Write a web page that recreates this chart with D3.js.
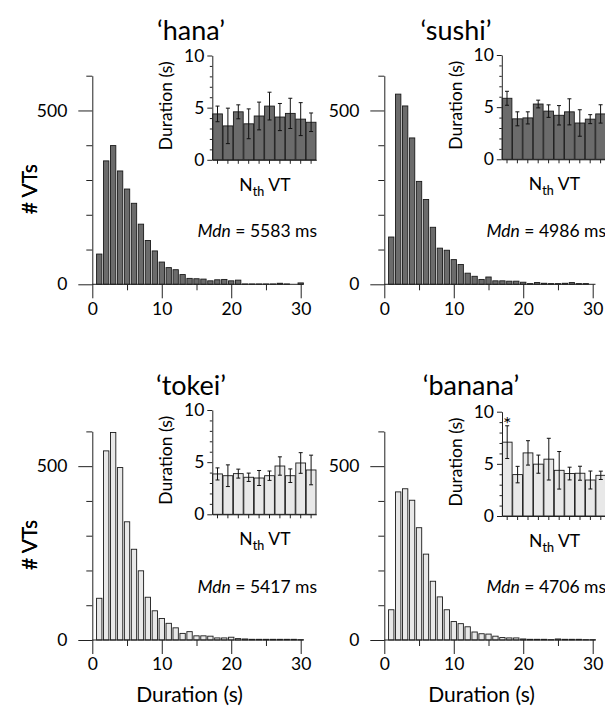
<!DOCTYPE html>
<html><head><meta charset="utf-8">
<script src="https://cdn.jsdelivr.net/npm/d3@7"></script>
<style>
html,body{margin:0;padding:0;background:#fff;}
svg text, svg tspan{font-family:Lato,"Open Sans",sans-serif;fill:#000;}
.sub{font-size:12.5px;}
</style></head>
<body><svg id="c" width="605" height="718"></svg>
<script>
// ---- data ----
const panelNames = ["‘hana’", "‘sushi’", "‘tokei’", "‘banana’"];
const durationBins = [1,2,3,4,5,6,7,8,9,10,11,12,13,14,15,16,17,18,19,20,21,22,23,24,25,26,27,28,29,30];
const hanaCounts   = [87,355,399,326,274,233,173,126,96,64,48,42,28,17,16,15,10,13,14,10,12,1,1,1,1,1,3,1,0,4];
const sushiCounts  = [136,547,513,421,296,244,164,104,98,71,57,32,23,14,21,10,10,9,9,6,2,5,3,2,2,3,5,2,2,0];
const tokeiCounts  = [120,544,597,496,340,261,199,123,84,62,48,35,19,24,12,12,11,6,6,8,4,3,2,2,2,2,2,2,2,1];
const bananaCounts = [87,426,435,402,323,247,169,124,87,53,47,38,23,18,17,11,7,6,6,3,2,2,2,1,3,2,2,2,1,1];
const nthVT = [1,2,3,4,5,6,7,8,9,10];
const hanaMeans   = [4.4,3.25,4.6,3.45,4.2,5.15,4.1,4.45,3.9,3.6];
const hanaErr     = [0.75,1.7,0.67,1.43,1.33,1.33,1.3,1.45,1.58,0.89];
const sushiMeans  = [5.85,3.88,3.97,5.3,4.62,4.22,4.55,3.48,3.85,4.35];
const sushiErr    = [0.67,0.67,0.58,0.37,0.6,0.93,1.25,1.27,0.43,0.88];
const tokeiMeans  = [3.87,3.7,3.9,3.55,3.48,3.7,4.63,3.7,4.92,4.25];
const tokeiErr    = [0.58,1.04,0.43,0.4,0.72,0.45,0.88,0.65,0.99,1.42];
const bananaMeans = [7.08,3.97,6.05,4.97,5.45,4.38,4.07,4.1,3.45,3.9];
const bananaErr   = [1.57,0.79,1.17,0.87,2.0,1.8,0.61,0.67,0.86,0.4];
const medians = [5583, 4986, 5417, 4706];
const mainYMajor = [0, 500];
const mainYMinor = [100, 200, 300, 400, 600];
const mainXMajor = [0, 10, 20, 30];
const mainXMinor = [5, 15, 25];
const insetYMajor = [0, 5, 10];
const insetYMinor = [1, 2, 3, 4, 6, 7, 8, 9];
const significant = [[], [], [], [1]];

const countsAll = [hanaCounts, sushiCounts, tokeiCounts, bananaCounts];
const meansAll = [hanaMeans, sushiMeans, tokeiMeans, bananaMeans];
const errAll = [hanaErr, sushiErr, tokeiErr, bananaErr];

// ---- layout ----
const layout = [
  {ox: 92.3, oy: 284.3, idx: 120, idy: 124.5, fill: "#6b6b6b", tx: 191, ty: 40, mdnX: 317},
  {ox: 384.3, oy: 284.3, idx: 117.5, idy: 125, fill: "#6b6b6b", tx: 456, ty: 40, mdnX: 606},
  {ox: 92.3, oy: 640, idx: 120, idy: 125.7, fill: "#e8e8e8", tx: 191, ty: 395, mdnX: 317},
  {ox: 384.3, oy: 640, idx: 117.7, idy: 124, fill: "#e8e8e8", tx: 471, ty: 395, mdnX: 606}
];
const FS = {title: 27, axisLabel: 21, tick: 17.5, inset: 17.5, mdn: 17.5};
const svg = d3.select("#c");
const axisColor = "#222";

function styleAxis(g){
  g.selectAll("path.domain").attr("stroke", axisColor).attr("stroke-width", 1);
  g.selectAll(".tick line").attr("stroke", axisColor).attr("stroke-width", 1);
  g.selectAll(".tick text").attr("fill", "#000");
}

layout.forEach((L, p) => {
  const g = svg.append("g");
  const x = d3.scaleLinear().domain([0, 30]).range([L.ox, L.ox + 208.4]);
  const y = d3.scaleLinear().domain([0, 600]).range([L.oy, L.oy - 208.6]);
  const bw = (x(1) - x(0)) * 0.77;

  // bars
  g.append("g").selectAll("rect").data(durationBins.map((b, i) => ({b, v: countsAll[p][i]})))
    .join("rect")
    .attr("x", d => x(d.b) - bw / 2).attr("width", bw)
    .attr("y", d => y(d.v)).attr("height", d => Math.max(0, y(0) - y(d.v)))
    .attr("fill", L.fill).attr("stroke", "#1a1a1a").attr("stroke-width", 0.9);

  // y axis
  const yMaj = g.append("g").attr("transform", `translate(${L.ox},0)`)
    .call(d3.axisLeft(y).tickValues(mainYMajor).tickSize(14).tickSizeOuter(0).tickPadding(11));
  yMaj.selectAll("text").style("font-size", FS.tick + "px");
  styleAxis(yMaj);
  const yMin = g.append("g").attr("transform", `translate(${L.ox},0)`)
    .call(d3.axisLeft(y).tickValues(mainYMinor).tickSize(6).tickFormat(""));
  yMin.select("path.domain").remove();
  styleAxis(yMin);

  // x axis
  const xMaj = g.append("g").attr("transform", `translate(0,${L.oy})`)
    .call(d3.axisBottom(x).tickValues(mainXMajor).tickSize(14).tickSizeOuter(0).tickPadding(4));
  xMaj.select("path.domain").remove();
  xMaj.selectAll("text").style("font-size", FS.tick + "px");
  styleAxis(xMaj);
  const xMin = g.append("g").attr("transform", `translate(0,${L.oy})`)
    .call(d3.axisBottom(x).tickValues(mainXMinor).tickSize(6).tickFormat(""));
  xMin.select("path.domain").remove();
  styleAxis(xMin);
  g.append("line").attr("x1", x(0)).attr("x2", x(30.4)).attr("y1", L.oy).attr("y2", L.oy)
    .attr("stroke", axisColor);

  // title
  g.append("text").attr("x", L.tx).attr("y", L.ty).attr("text-anchor", "middle")
    .style("font-size", FS.title + "px").text(panelNames[p]);

  // y label
  g.append("text").attr("transform", `translate(37,${L.oy - 95}) rotate(-90)`)
    .attr("text-anchor", "middle").style("font-size", FS.axisLabel + "px").text("# VTs");

  // x label for bottom row
  if (p >= 2) {
    g.append("text").attr("x", x(14)).attr("y", L.oy + 62).attr("text-anchor", "middle")
      .style("font-size", FS.axisLabel + "px").text("Duration (s)");
  }

  // median text
  const mt = g.append("text").attr("x", L.mdnX).attr("y", L.oy - 47).attr("text-anchor", "end")
    .style("font-size", FS.mdn + "px");
  mt.append("tspan").style("font-style", "italic").text("Mdn");
  mt.append("tspan").text(" = " + medians[p] + " ms");

  // inset
  const ix0 = L.ox + L.idx, iy0 = L.oy - L.idy;
  const ix = d3.scaleBand().domain(nthVT).range([ix0, ix0 + 104]).paddingInner(0.06).paddingOuter(0.03);
  const iy = d3.scaleLinear().domain([0, 10]).range([iy0, iy0 - 104.3]);
  const ig = g.append("g");
  const idata = nthVT.map((n, i) => ({n, m: meansAll[p][i], e: errAll[p][i]}));
  ig.append("g").selectAll("rect").data(idata).join("rect")
    .attr("x", d => ix(d.n)).attr("width", ix.bandwidth())
    .attr("y", d => iy(d.m)).attr("height", d => iy(0) - iy(d.m))
    .attr("fill", L.fill).attr("stroke", "#1a1a1a").attr("stroke-width", 0.9);
  const eg = ig.append("g").attr("stroke", "#111").attr("stroke-width", 1);
  const cx = d => ix(d.n) + ix.bandwidth() / 2;
  eg.selectAll("line.v").data(idata).join("line").attr("class", "v")
    .attr("x1", cx).attr("x2", cx)
    .attr("y1", d => iy(d.m - d.e)).attr("y2", d => iy(d.m + d.e));
  eg.selectAll("line.t").data(idata).join("line").attr("class", "t")
    .attr("x1", d => cx(d) - 2).attr("x2", d => cx(d) + 2)
    .attr("y1", d => iy(d.m + d.e)).attr("y2", d => iy(d.m + d.e));
  eg.selectAll("line.b").data(idata).join("line").attr("class", "b")
    .attr("x1", d => cx(d) - 2).attr("x2", d => cx(d) + 2)
    .attr("y1", d => iy(d.m - d.e)).attr("y2", d => iy(d.m - d.e));
  // significance
  ig.selectAll("text.sig").data(idata.filter(d => significant[p].includes(d.n))).join("text")
    .attr("class", "sig").attr("x", cx).attr("y", d => iy(d.m + d.e) + 5)
    .attr("text-anchor", "middle").style("font-size", "20px").text("*");

  const iyMaj = ig.append("g").attr("transform", `translate(${ix0},0)`)
    .call(d3.axisLeft(iy).tickValues(insetYMajor).tickSize(5).tickSizeOuter(0).tickPadding(3));
  iyMaj.selectAll("text").style("font-size", FS.inset + "px");
  styleAxis(iyMaj);
  const iyMin = ig.append("g").attr("transform", `translate(${ix0},0)`)
    .call(d3.axisLeft(iy).tickValues(insetYMinor).tickSize(2.5).tickFormat(""));
  iyMin.select("path.domain").remove();
  styleAxis(iyMin);
  const ixAx = ig.append("g").attr("transform", `translate(0,${iy0})`)
    .call(d3.axisBottom(ix).tickSize(4).tickSizeOuter(0).tickFormat(""));
  styleAxis(ixAx);

  ig.append("text").attr("transform", `translate(${ix0 - 40},${iy0 - 54}) rotate(-90)`)
    .attr("text-anchor", "middle").style("font-size", FS.inset + "px").text("Duration (s)");
  // "N_th VT" label
  const nX = ix0 + 27, nY = iy0 + 31;
  ig.append("text").attr("x", nX).attr("y", nY).style("font-size", FS.inset + "px").text("N");
  ig.append("text").attr("class", "sub")
    .attr("transform", `translate(${nX + 13.5},${nY + 5}) scale(1.0001)`)
    .attr("stroke", "#000").attr("stroke-width", 0.15).text("th");
  ig.append("text").attr("x", nX + 29).attr("y", nY).style("font-size", FS.inset + "px").text("VT");
});
</script></body></html>
